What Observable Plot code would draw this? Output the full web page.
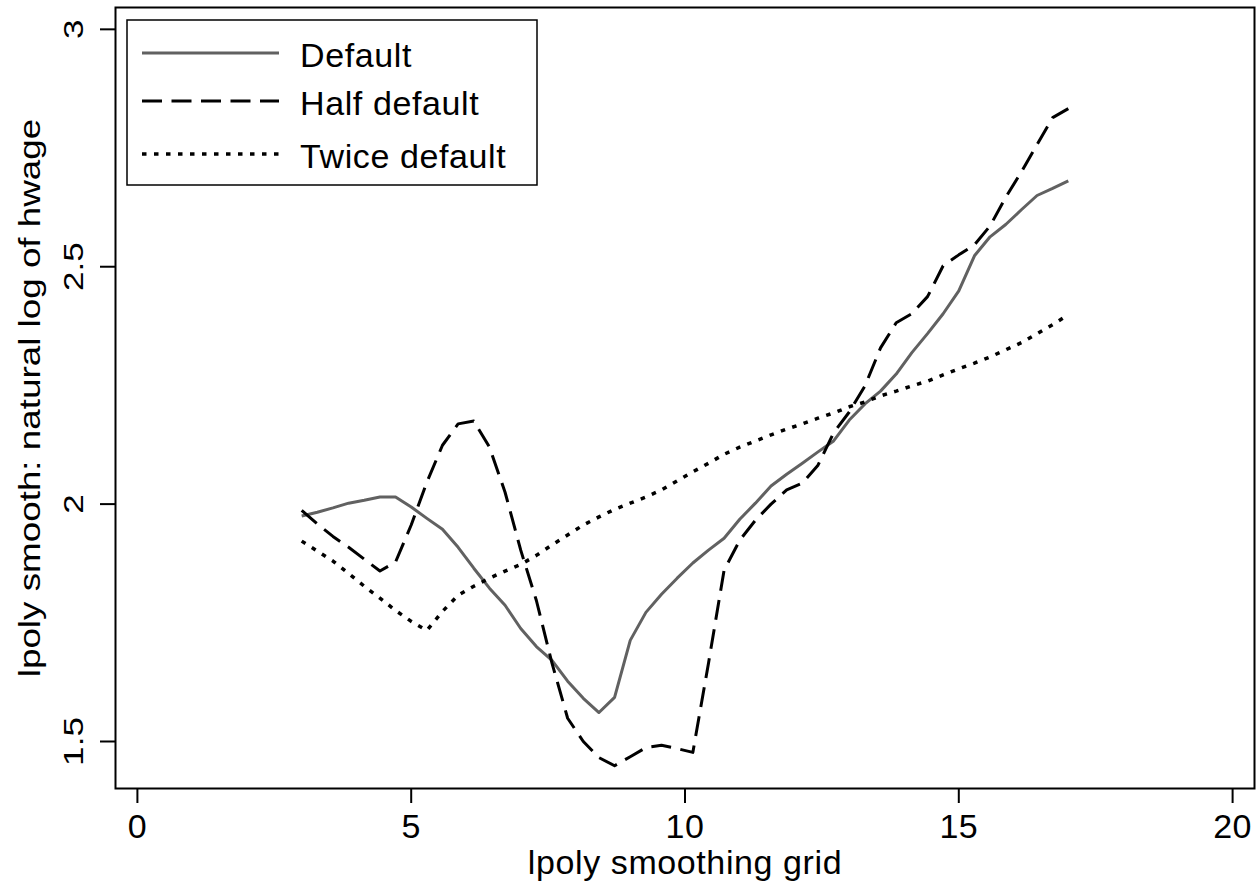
<!DOCTYPE html>
<html>
<head>
<meta charset="utf-8">
<script src="https://cdn.jsdelivr.net/npm/d3@7"></script>
<script src="https://cdn.jsdelivr.net/npm/@observablehq/plot@0.6"></script>
<style>
  html, body { margin: 0; padding: 0; background: white; }
  #wrap { position: relative; width: 1258px; height: 892px; }
  #legend { position: absolute; left: 0; top: 0; }
</style>
</head>
<body>
<div id="wrap"></div>
<script>
// ---- data ----
const seriesNames = ["Default", "Half default", "Twice default"];
const gridX = [3.000, 3.286, 3.571, 3.857, 4.143, 4.429, 4.714, 5.000, 5.286, 5.571,
  5.857, 6.143, 6.429, 6.714, 7.000, 7.286, 7.571, 7.857, 8.143, 8.429,
  8.714, 9.000, 9.286, 9.571, 9.857, 10.143, 10.429, 10.714, 11.000, 11.286,
  11.571, 11.857, 12.143, 12.429, 12.714, 13.000, 13.286, 13.571, 13.857, 14.143,
  14.429, 14.714, 15.000, 15.286, 15.571, 15.857, 16.143, 16.429, 16.714, 17.000];
const defaultY = [1.975, 1.983, 1.992, 2.002, 2.008, 2.015, 2.015, 1.994, 1.970, 1.947,
  1.909, 1.865, 1.823, 1.787, 1.738, 1.700, 1.671, 1.627, 1.591, 1.561,
  1.593, 1.713, 1.772, 1.810, 1.844, 1.876, 1.903, 1.928, 1.968, 2.002,
  2.038, 2.063, 2.086, 2.110, 2.133, 2.177, 2.211, 2.238, 2.274, 2.319,
  2.359, 2.401, 2.449, 2.523, 2.563, 2.589, 2.620, 2.650, 2.665, 2.681];
const halfY = [1.987, 1.958, 1.932, 1.909, 1.884, 1.859, 1.878, 1.956, 2.046, 2.124,
  2.169, 2.175, 2.120, 2.025, 1.903, 1.797, 1.665, 1.549, 1.500, 1.466,
  1.449, 1.468, 1.487, 1.492, 1.485, 1.477, 1.665, 1.861, 1.924, 1.966,
  2.000, 2.030, 2.044, 2.082, 2.150, 2.194, 2.249, 2.329, 2.382, 2.401,
  2.437, 2.502, 2.525, 2.546, 2.586, 2.646, 2.700, 2.757, 2.814, 2.833];
const twiceY = [1.922, 1.901, 1.880, 1.854, 1.827, 1.802, 1.776, 1.753, 1.734, 1.774,
  1.808, 1.827, 1.844, 1.859, 1.873, 1.892, 1.914, 1.935, 1.956, 1.973,
  1.989, 2.002, 2.015, 2.030, 2.049, 2.068, 2.086, 2.105, 2.120, 2.133,
  2.146, 2.158, 2.169, 2.181, 2.192, 2.205, 2.215, 2.228, 2.238, 2.249,
  2.259, 2.272, 2.285, 2.297, 2.310, 2.325, 2.340, 2.359, 2.378, 2.399];
const xTicks = [0, 5, 10, 15, 20];
const yTicks = [1.5, 2, 2.5, 3];
const xTitle = "lpoly smoothing grid";
const yTitle = "lpoly smooth: natural log of hwage";

// ---- styles ----
const FONT = "'Liberation Sans', Arial, Helvetica, sans-serif";
const lineStyles = [
  {stroke: "#616161", strokeWidth: 3, strokeDasharray: null},
  {stroke: "#000000", strokeWidth: 3, strokeDasharray: "20,9.5"},
  {stroke: "#000000", strokeWidth: 3.5, strokeDasharray: "4.5,7.5"}
];
const seriesY = [defaultY, halfY, twiceY];

const chart = Plot.plot({
  width: 1258,
  height: 892,
  marginLeft: 115,
  marginRight: 4,
  marginTop: 7,
  marginBottom: 104,
  style: {fontFamily: FONT, background: "white", color: "black", overflow: "visible"},
  x: {domain: [-0.4, 20.4]},
  y: {domain: [1.401, 3.046]},
  marks: [
    ...seriesY.map((ys, k) => Plot.line(d3.zip(gridX, ys), {
      stroke: lineStyles[k].stroke,
      strokeWidth: lineStyles[k].strokeWidth,
      strokeDasharray: lineStyles[k].strokeDasharray,
      strokeLinejoin: "round",
      strokeLinecap: "butt"
    })),
    Plot.axisX({ticks: xTicks, tickSize: 15, tickPadding: 10, fontSize: 34, strokeWidth: 2,
      label: null, tickFormat: d => String(d)}),
    Plot.axisY({ticks: yTicks, tickSize: 15, tickPadding: 18, tickRotate: -90,
      textAnchor: "middle", lineAnchor: "bottom", fontSize: 27, strokeWidth: 2,
      label: null, tickFormat: d => String(d)}),
    Plot.text([xTitle], {text: d => d, frameAnchor: "bottom", dy: 85, lineAnchor: "bottom",
      textAnchor: "middle", fontSize: 34}),
    Plot.text([yTitle], {text: d => d, frameAnchor: "left", dx: -76, rotate: -90,
      lineAnchor: "bottom", textAnchor: "middle", fontSize: 29}),
    Plot.frame({stroke: "black", strokeWidth: 2})
  ]
});

document.getElementById("wrap").appendChild(chart);

// stretch rotated texts along their reading direction (as in the reference)
let stretched = 0;
chart.querySelectorAll("text").forEach(t => {
  const s = t.textContent === yTitle ? 1.27 : 1.3;
  const tr = t.getAttribute("transform") || "";
  const p = t.parentNode;
  const ptr = (p && p.getAttribute && p.getAttribute("transform")) || "";
  if (tr.includes("rotate")) {
    t.setAttribute("transform", tr + ` scale(${s},1)`); stretched++;
  } else if (ptr.includes("rotate") && p.querySelectorAll("text").length === 1) {
    p.setAttribute("transform", ptr + ` scale(${s},1)`); stretched++;
  }
});
// X-axis texts a little wider, like the reference
chart.querySelectorAll('g[aria-label="x-axis tick label"] text').forEach(t => t.style.letterSpacing = "0.5px");
chart.querySelectorAll("text").forEach(t => { if (t.textContent === xTitle) t.style.letterSpacing = "0.6px"; });

// ---- legend (overlay inside the plot frame) ----
const lg = d3.select("#wrap").append("svg")
  .attr("id", "legend").attr("width", 1258).attr("height", 892)
  .style("pointer-events", "none");
lg.append("rect").attr("x", 127).attr("y", 20).attr("width", 410).attr("height", 165)
  .attr("fill", "white").attr("stroke", "black").attr("stroke-width", 1.5);
const rowY = [53, 101, 154];
seriesNames.forEach((name, k) => {
  const st = lineStyles[k];
  lg.append("line").attr("x1", 142).attr("x2", 279).attr("y1", rowY[k]).attr("y2", rowY[k])
    .attr("stroke", st.stroke).attr("stroke-width", st.strokeWidth)
    .attr("stroke-dasharray", st.strokeDasharray);
  lg.append("text").attr("x", 300).attr("y", rowY[k] + 13.5)
    .attr("font-family", FONT).attr("font-size", 34).attr("fill", "black")
    .style("letter-spacing", "0.6px")
    .text(name);
});
</script>
</body>
</html>
